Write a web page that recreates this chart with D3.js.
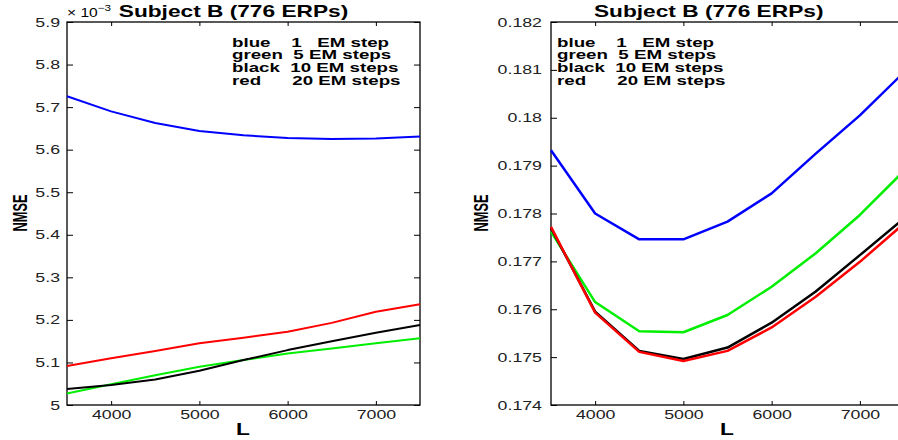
<!DOCTYPE html>
<html>
<head>
<meta charset="utf-8">
<script src="https://cdn.jsdelivr.net/npm/d3@7"></script>
<style>
  body { margin: 0; background: #fff; }
  svg { display: block; }
  text { font-family: "Liberation Sans", Arial, sans-serif; }
</style>
</head>
<body>
<div id="container"></div>
<script>
// data
var xVals = [3500, 4000, 4500, 5000, 5500, 6000, 6500, 7000, 7500];

var leftBlue  = [5.7254, 5.690, 5.6627, 5.644, 5.6338, 5.6275, 5.625, 5.626, 5.6307];
var leftGreen = [5.027, 5.0486, 5.070, 5.090, 5.1056, 5.121, 5.133, 5.145, 5.157];
var leftBlack = [5.0375, 5.047, 5.060, 5.0805, 5.1056, 5.129, 5.150, 5.170, 5.188];
var leftRed   = [5.0915, 5.110, 5.127, 5.145, 5.158, 5.172, 5.193, 5.219, 5.237];

var rightBlue  = [0.17932, 0.17800, 0.17746, 0.17746, 0.17783, 0.17842, 0.17925, 0.18005, 0.18095];
var rightGreen = [0.17762, 0.17615, 0.17554, 0.17552, 0.17588, 0.17647, 0.17717, 0.17797, 0.17889];
var rightBlack = [0.17770, 0.17595, 0.17513, 0.17496, 0.17520, 0.17572, 0.17637, 0.17713, 0.17790];
var rightRed   = [0.17772, 0.17593, 0.17511, 0.17492, 0.17513, 0.17562, 0.17626, 0.17699, 0.17779];

var xTicks = [4000, 5000, 6000, 7000];
var leftYTicks = [5, 5.1, 5.2, 5.3, 5.4, 5.5, 5.6, 5.7, 5.8, 5.9];
var rightYTicks = [0.174, 0.175, 0.176, 0.177, 0.178, 0.179, 0.18, 0.181, 0.182];

var seriesColors = ["#0000ff", "#00ee00", "#000000", "#ff0000"];
var legendLines = ["blue    1   EM step", "green  5 EM steps", "black  10 EM steps", "red      20 EM steps"];
var titleText = "Subject B (776 ERPs)";

var width = 898, height = 440;
var SX = 1.42; // the picture is stretched sideways

var svg = d3.select("div#container")
  .append("svg")
  .attr("width", width)
  .attr("height", height);

// text that is stretched like the reference
function stext(parent, x, y, str, size, weight, anchor, rot, sx) {
  var g = parent.append("g")
    .attr("transform", "translate(" + x + "," + y + ") scale(" + (sx || SX) + ",1)" + (rot ? " rotate(" + rot + ")" : ""));
  return g.append("text")
    .attr("text-anchor", anchor || "start")
    .style("font-size", size + "px")
    .style("font-weight", weight || "normal")
    .style("white-space", "pre")
    .attr("xml:space", "preserve")
    .attr("fill", "#000")
    .text(str);
}

function panel(opts) {
  var x = d3.scaleLinear().domain([3500, 7500]).range([opts.left, opts.left + 353]);
  var y = d3.scaleLinear().domain(opts.yDomain).range([405, 22]);

  var g = svg.append("g");

  // ticks on all four sides, pointing in
  var axes = [
    [d3.axisBottom(x).tickValues(xTicks).tickSizeInner(-4).tickSizeOuter(0).tickPadding(5).tickFormat(d3.format("d")), "translate(0,405)"],
    [d3.axisTop(x).tickValues(xTicks).tickSizeInner(-4).tickSizeOuter(0).tickFormat(""), "translate(0,22)"],
    [d3.axisLeft(y).tickValues(opts.yTicks).tickSizeInner(-6).tickSizeOuter(0).tickPadding(opts.yPad).tickFormat(opts.yFormat), "translate(" + opts.left + ",0)"],
    [d3.axisRight(y).tickValues(opts.yTicks).tickSizeInner(-6).tickSizeOuter(0).tickFormat(""), "translate(" + (opts.left + 353) + ",0)"]
  ];
  axes.forEach(function(a, i) {
    var ag = g.append("g").attr("transform", a[1]).call(a[0]);
    ag.select(".domain").remove();
    ag.selectAll("line").attr("stroke", "#000");
    ag.selectAll("text")
      .style("font-family", '"Liberation Sans", Arial, sans-serif')
      .style("font-size", "12.5px")
      .attr("fill", "#222")
      .attr("transform", "scale(" + SX + ",1)")
      .attr("x", function() { var v = d3.select(this).attr("x"); return v ? +v / SX : 0; });
  });

  g.append("rect")
    .attr("x", opts.left).attr("y", 22)
    .attr("width", 353).attr("height", 383)
    .attr("fill", "none").attr("stroke", "#000").attr("stroke-width", 1.3);

  var line = d3.line()
    .x(function(d, i) { return x(xVals[i]); })
    .y(function(d) { return y(d); });

  opts.series.forEach(function(s, i) {
    g.append("path")
      .datum(s)
      .attr("fill", "none")
      .attr("stroke", seriesColors[i])
      .attr("stroke-width", opts.lw)
      .attr("stroke-linejoin", "round")
      .attr("d", line);
  });

  // legend text
  legendLines.forEach(function(t, i) {
    stext(g, opts.legendX, 46.5 + i * 12.8, t, 12, "bold", "start", 0, 1.56);
  });

  stext(g, opts.titleX, 17, titleText, 16, "bold", "middle");
  stext(g, opts.left + 176, 435, "L", 16, "bold", "middle");
  stext(g, opts.ylabelX, 213, "NMSE", 12.8, "bold", "middle", -90, 1.64);
}

panel({
  left: 67,
  yDomain: [5.0, 5.9],
  yTicks: leftYTicks,
  yPad: 7,
  yFormat: function(d) { return d3.format(".1f")(d).replace(/\.0$/, ""); },
  series: [leftBlue, leftGreen, leftBlack, leftRed],
  lw: 2,
  legendX: 232,
  titleX: 233.5,
  ylabelX: 26.5
});

panel({
  left: 551,
  yDomain: [0.174, 0.182],
  yTicks: rightYTicks,
  yPad: 9,
  yFormat: function(d) { return d3.format(".3f")(d).replace(/0+$/, "").replace(/\.$/, ""); },
  series: [rightBlue, rightGreen, rightBlack, rightRed],
  lw: 2.5,
  legendX: 557,
  titleX: 708.7,
  ylabelX: 488
});

// exponent on the left panel
var ex = stext(svg, 67, 17, "\u00d7 10", 12, "normal", "start", 0, 1.3);
ex.append("tspan").attr("dy", -6).style("font-size", "9px").text("\u22123");
</script>
</body>
</html>
